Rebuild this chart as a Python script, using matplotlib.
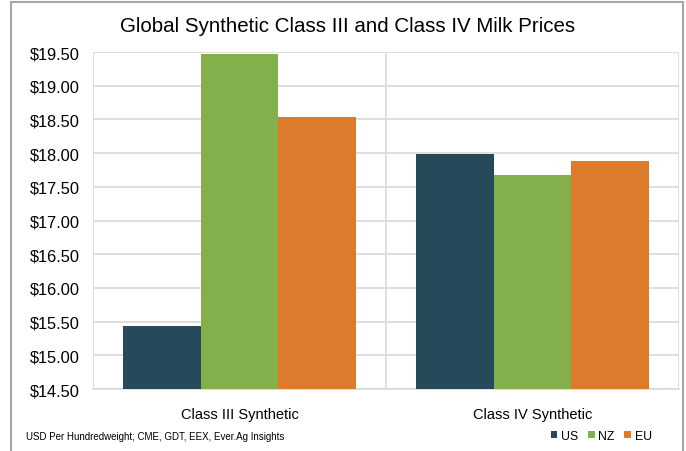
import numpy as np
import matplotlib.pyplot as plt
from matplotlib.patches import Rectangle

plt.rcParams['font.family'] = ['Liberation Sans', 'DejaVu Sans']

categories = ['Class III Synthetic', 'Class IV Synthetic']
series = ['US', 'NZ', 'EU']
us = [15.43, 17.99]
nz = [19.47, 17.68]
eu = [18.54, 17.88]
colors = ['#274A5A', '#84B04C', '#DB7B2B']

W, H = 686, 452
fig = plt.figure(figsize=(W / 100, H / 100), dpi=100)
ax = fig.add_axes([93 / W, 1 - 390 / H, (679 - 93) / W, (390 - 53) / H])

# outer border of chart
fig.add_artist(Rectangle((11 / W, -0.01), (683 - 11) / W, 1 - 3 / H + 0.01,
                         transform=fig.transFigure, fill=False,
                         edgecolor='#A6A6A6', linewidth=1.5))

x = np.arange(len(categories))
bw = 0.266
for i, (vals, name) in enumerate(zip([us, nz, eu], series)):
    ax.bar(x + (i - 1) * bw, vals, width=bw, color=colors[i], label=name, zorder=3)

ax.set_xlim(-0.5, 1.5)
ax.set_ylim(14.5, 19.5)
ticks = np.arange(14.5, 19.51, 0.5)
ax.set_yticks(ticks)
ax.set_yticklabels(['${:.2f}'.format(v) for v in ticks], fontsize=11.8)
ax.set_xticks(x)
ax.set_xticklabels(categories, fontsize=10.5)
ax.tick_params(axis='y', length=0, pad=9.5)
ax.tick_params(axis='x', length=0, pad=13)
ax.yaxis.grid(True, color='#D9D9D9', linewidth=1.2, zorder=0)
for xv in [-0.5, 0.5, 1.5]:
    ax.axvline(xv, color='#D9D9D9', linewidth=1.2, zorder=0)
for s in ['top', 'right', 'left']:
    ax.spines[s].set_visible(False)
ax.spines['bottom'].set_color('#D9D9D9')
ax.spines['bottom'].set_linewidth(1.2)

fig.text(348 / W, 1 - 27 / H, 'Global Synthetic Class III and Class IV Milk Prices',
         ha='center', va='center', fontsize=14.8)
fig.text(26 / W, 1 - 437 / H, 'USD Per Hundredweight; CME, GDT, EEX, Ever.Ag Insights',
         ha='left', va='center', fontsize=7)

fig.legend(loc='center right', bbox_to_anchor=(652 / W, 1 - 437 / H), ncol=3,
           frameon=False, fontsize=8.8, handlelength=0.55, handleheight=0.55,
           handletextpad=0.3, columnspacing=0.8, borderaxespad=0, borderpad=0)

fig.savefig('out.png', dpi=100)
